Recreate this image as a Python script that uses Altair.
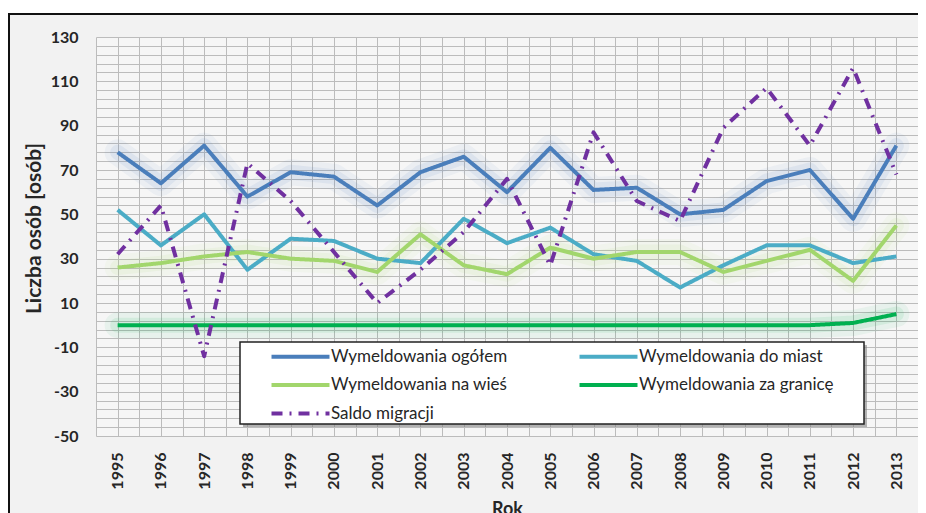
import altair as alt
import pandas as pd

years = list(range(1995, 2014))
series_names = [
    "Wymeldowania ogółem",
    "Wymeldowania do miast",
    "Wymeldowania na wieś",
    "Wymeldowania za granicę",
    "Saldo migracji",
]
ogolem = [78, 64, 81, 58, 69, 67, 54, 69, 76, 60, 80, 61, 62, 50, 52, 65, 70, 48, 81]
do_miast = [52, 36, 50, 25, 39, 38, 30, 28, 48, 37, 44, 32, 29, 17, 27, 36, 36, 28, 31]
na_wies = [26, 28, 31, 33, 30, 29, 24, 41, 27, 23, 35, 30, 33, 33, 24, 29, 34, 20, 45]
za_granice = [0, 0, 0, 0, 0, 0, 0, 0, 0, 0, 0, 0, 0, 0, 0, 0, 0, 1, 5]
saldo = [32, 54, -14, 73, 56, 33, 10, 25, 42, 66, 27, 87, 56, 47, 89, 107, 81, 116, 68]

colors = {
    "Wymeldowania ogółem": "#4a7ebb",
    "Wymeldowania do miast": "#4bacc6",
    "Wymeldowania na wieś": "#a2d66c",
    "Wymeldowania za granicę": "#00b050",
    "Saldo migracji": "#7030a0",
}
dashes = {
    "Wymeldowania ogółem": [1, 0],
    "Wymeldowania do miast": [1, 0],
    "Wymeldowania na wieś": [1, 0],
    "Wymeldowania za granicę": [1, 0],
    "Saldo migracji": [11, 7, 2, 7],
}
# legend is laid out column by column
legend_order = [series_names[i] for i in (0, 2, 4, 1, 3)]

rows = []
for name, vals in zip(series_names, [ogolem, do_miast, na_wies, za_granice, saldo]):
    for y, v in zip(years, vals):
        rows.append({"year": y, "value": v, "series": name})
df = pd.DataFrame(rows)

W, H = 822, 399
FONT = "Lato"

x_enc = alt.X(
    "year:Q",
    scale=alt.Scale(domain=[1994.5, 2013.5], nice=False, zero=False),
    axis=alt.Axis(
        values=[1994.5 + 0.5 * i for i in range(39)],
        labelExpr="datum.value % 1 == 0 ? datum.value : ''",
        labelAngle=270, labelAlign="right", labelBaseline="middle",
        labelPadding=16, labelFontWeight="bold", labelFontSize=16,
        labelOverlap=False, labelFlush=False, labelBound=False,
        ticks=False, domain=False, grid=True,
        title="Rok", titleFontSize=18, titleFontWeight="bold",
        titleBaseline="top", titleY=64,
    ),
)
y_enc = alt.Y(
    "value:Q",
    scale=alt.Scale(domain=[-50, 130], nice=False, zero=False),
    axis=alt.Axis(
        values=list(range(-50, 131, 4)),
        labelExpr="(datum.value + 50) % 20 == 0 ? datum.value : ''",
        labelPadding=18, labelFontWeight="bold", labelFontSize=16,
        labelOverlap=False, labelFlush=False, labelBound=False,
        ticks=False, domain=False, grid=True,
        title="Liczba osób [osób]", titleFontSize=21, titleFontWeight="bold",
        titleAngle=270, titleX=-62, titleY=191, titleAlign="center",
        titleBaseline="middle",
    ),
)

base = alt.Chart(df)

# decorative frame (top white strip and black border) and legend box
deco = alt.Data(values=[{"k": 1}])
white_strip = alt.Chart(deco).mark_rect(color="white").encode(
    x=alt.value(-88), x2=alt.value(W + 20), y=alt.value(-29), y2=alt.value(-24)
)
frame_top = alt.Chart(deco).mark_rule(color="#111", strokeWidth=2).encode(
    x=alt.value(-88), x2=alt.value(W + 20), y=alt.value(-23)
)
frame_left = alt.Chart(deco).mark_rule(color="#111", strokeWidth=2).encode(
    x=alt.value(-87), y=alt.value(-24), y2=alt.value(H + 100)
)
box_shadow = alt.Chart(deco).mark_rect(color="#7a7a7a", opacity=0.55).encode(
    x=alt.value(147), x2=alt.value(771), y=alt.value(308), y2=alt.value(390)
)
box = alt.Chart(deco).mark_rect(fill="white", stroke="#222", strokeWidth=1.5).encode(
    x=alt.value(144), x2=alt.value(768), y=alt.value(305), y2=alt.value(387)
)

glows = []
for name in (series_names[0], series_names[2], series_names[3]):
    for w, op in [(26, 0.06), (15, 0.09)]:
        glows.append(
            base.transform_filter(alt.datum.series == name)
            .mark_line(color=colors[name], strokeWidth=w, opacity=op,
                       strokeJoin="round", strokeCap="round")
            .encode(x=x_enc, y=y_enc)
        )

leg = dict(
    orient="none", legendX=172, legendY=311, columns=2,
    symbolType="M-1,0L10.6,0", symbolSize=100, symbolStrokeWidth=4,
    labelFontSize=17, labelFont=FONT, labelColor="#262626",
    padding=0, columnPadding=63, rowPadding=10.5, labelOffset=46, labelLimit=0,
    title=None,
)

lines = base.mark_line(strokeWidth=4, strokeJoin="round").encode(
    x=x_enc,
    y=y_enc,
    color=alt.Color(
        "series:N",
        scale=alt.Scale(domain=legend_order, range=[colors[n] for n in legend_order]),
        sort=legend_order,
        legend=alt.Legend(**leg),
    ),
    strokeDash=alt.StrokeDash(
        "series:N",
        scale=alt.Scale(domain=legend_order, range=[dashes[n] for n in legend_order]),
        sort=legend_order,
        legend=alt.Legend(**leg),
    ),
)

chart = alt.layer(
    white_strip, frame_top, frame_left, *glows, lines, box_shadow, box
).properties(
    width=W, height=H,
    autosize=alt.AutoSizeParams(type="none"),
    padding={"left": 88, "top": 29, "right": 0, "bottom": 90},
    background="#f2f2f2",
).configure_view(
    fill="#f6f6f6", stroke=None
).configure_axis(
    gridColor="#bcbcbc", gridWidth=1, labelColor="#262626", titleColor="#262626",
    labelFont=FONT, titleFont=FONT,
)

chart.save("out.html", embed_options={"renderer": "svg", "actions": False})
